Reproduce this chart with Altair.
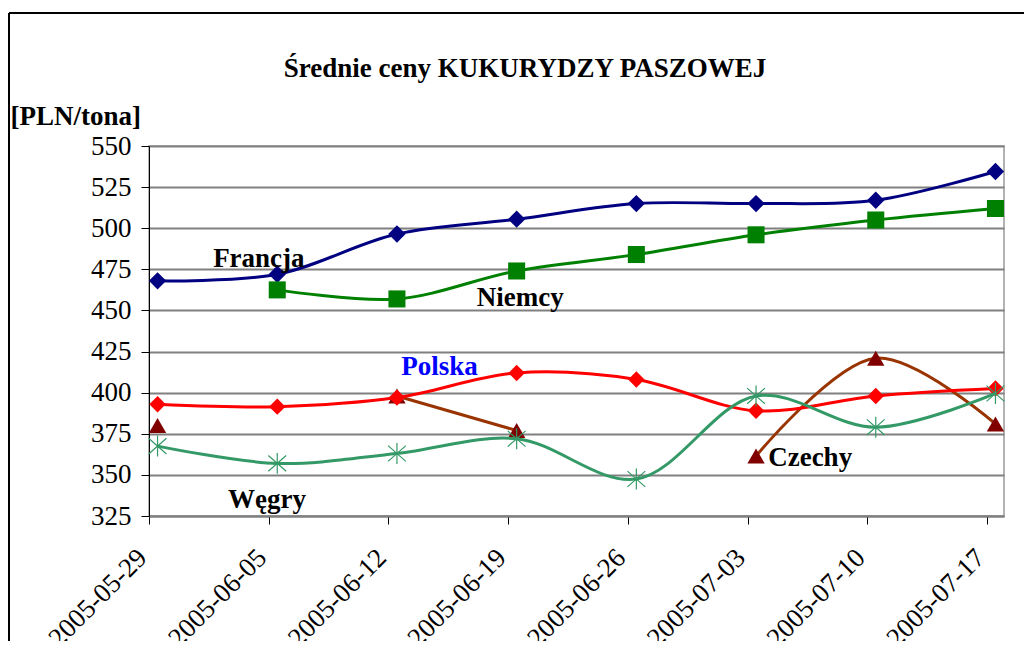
import altair as alt
import pandas as pd

# ---- data ----
dates = ["2005-05-29", "2005-06-05", "2005-06-12", "2005-06-19",
         "2005-06-26", "2005-07-03", "2005-07-10", "2005-07-17"]
francja = [468, 472, 496.5, 505.5, 515, 515, 517, 534.5]
niemcy = [None, 462.5, 457, 474, 484, 496, 505, 512]
czechy = [380, None, 398, 377, None, 361.5, 421, 381]
polska = [393, 391.5, 397, 412, 408, 389, 398, 402.5]
wegry = [367.5, 357, 363, 372, 347.5, 398, 379, 399.5]

series_names = ["Francja", "Niemcy", "Czechy", "Polska", "Węgry"]
series_values = [francja, niemcy, czechy, polska, wegry]
line_colors = ["#000080", "#008000", "#993300", "#FF0000", "#339966"]
marker_colors = ["#000080", "#008000", "#800000", "#FF0000", "#339966"]
STAR = "M0,-1L0,1M-0.85,-0.75L0.85,0.75M-0.85,0.75L0.85,-0.75"
marker_shapes = ["diamond", "square", "triangle-up", "diamond", STAR]
marker_sizes = [300, 290, 300, 270, 440]
marker_filled = [True, True, True, True, False]

label_names = ["Francja", "Niemcy", "Polska", "Czechy", "Węgry"]
label_dates = ["2005-06-01T18:00:00Z", "2005-06-17T04:00:00Z", "2005-06-12T18:00:00Z",
               "2005-07-04T05:00:00Z", "2005-06-02T15:00:00Z"]
label_values = [476.6, 452.4, 410.5, 355.3, 329.9]
label_colors = ["#000000", "#000000", "#0000FF", "#000000", "#000000"]

title_text = "Średnie ceny KUKURYDZY PASZOWEJ"
y_title = "[PLN/tona]"
y_ticks = [325, 350, 375, 400, 425, 450, 475, 500, 525, 550]

# ---- build tables ----
rows = []
for name, vals in zip(series_names, series_values):
    seg = 0
    prev_none = False
    for d, v in zip(dates, vals):
        if v is None:
            prev_none = True
            continue
        if prev_none:
            seg += 1
            prev_none = False
        rows.append({"series": name, "date": d + "T12:00:00Z", "value": v, "seg": seg})
df = pd.DataFrame(rows)

labels_df = pd.DataFrame({"name": label_names, "date": label_dates,
                          "value": label_values, "color": label_colors})


def dt(s):
    y, m, d = (int(p) for p in s.split("-"))
    return alt.DateTime(year=y, month=m, date=d, utc=True)


FONT = "Liberation Serif, Times New Roman, serif"

x_enc = alt.X(
    "date:T",
    scale=alt.Scale(type="utc", domain=[dt("2005-05-29"), dt("2005-07-18")]),
    axis=alt.Axis(
        values=[dt(d) for d in dates],
        labelExpr="utcFormat(datum.value, '%Y-%m-%d')",
        labelAngle=-45, labelAlign="right", labelBaseline="top",
        labelPadding=20, labelOffset=-16, tickSize=8, grid=False, title=None,
        labelFont=FONT, labelFontSize=27, labelColor="#000000",
        domainColor="#808080", domainWidth=2, tickColor="#000000",
    ),
)
y_enc = alt.Y(
    "value:Q",
    scale=alt.Scale(domain=[325, 550], nice=False, zero=False),
    axis=alt.Axis(
        values=y_ticks, tickSize=8, labelPadding=10, grid=True,
        gridColor="#808080", gridWidth=2,
        labelFont=FONT, labelFontSize=27, labelColor="#000000",
        domainColor="#000000", tickColor="#000000",
        title=y_title, titleAngle=0, titleX=-139, titleY=-22,
        titleAlign="left", titleBaseline="alphabetic",
        titleFont=FONT, titleFontSize=27, titleFontWeight="bold", titleColor="#000000",
    ),
)

layers = []
first = True
for name, lc, mc, shp, sz, fl in zip(series_names, line_colors, marker_colors,
                                      marker_shapes, marker_sizes, marker_filled):
    base = alt.Chart(df).transform_filter(alt.datum.series == name)
    line = base.mark_line(color=lc, strokeWidth=3, interpolate="catmull-rom").encode(
        x=x_enc if first else alt.X("date:T"),
        y=y_enc if first else alt.Y("value:Q"),
        detail="seg:N",
    )
    first = False
    if fl:
        pts = base.mark_point(shape=shp, size=sz, filled=True, color=mc, opacity=1)
    else:
        pts = base.mark_point(shape=shp, size=sz, filled=False, color=mc,
                              strokeWidth=1.2, opacity=1)
    pts = pts.encode(x="date:T", y="value:Q")
    layers += [line, pts]

labels = alt.Chart(labels_df).mark_text(
    font=FONT, fontSize=27, fontWeight="bold", align="left", baseline="alphabetic"
).encode(
    x="date:T", y="value:Q", text="name:N",
    color=alt.Color("color:N", scale=None),
)

dummy = pd.DataFrame({"a": [0]})
title = alt.Chart(dummy).mark_text(
    text=title_text, font=FONT, fontSize=27, fontWeight="bold",
    align="center", baseline="alphabetic", color="#000000",
).encode(x=alt.value(376), y=alt.value(-69))

frame_top = alt.Chart(dummy).mark_rule(color="#000000", strokeWidth=2).encode(
    x=alt.value(-140), x2=alt.value(900), y=alt.value(-133))
frame_left = alt.Chart(dummy).mark_rule(color="#000000", strokeWidth=2).encode(
    x=alt.value(-140), y=alt.value(-133), y2=alt.value(530))

chart = alt.layer(*layers, labels, title, frame_top, frame_left).properties(
    width=855, height=370,
    autosize=alt.AutoSizeParams(type="none"),
    padding={"left": 141, "top": 138, "right": 20, "bottom": 125},
    background="white",
).configure_view(
    stroke="#999999", strokeWidth=1.5,
)

chart.save("out.html", embed_options={"renderer": "svg", "actions": False})
